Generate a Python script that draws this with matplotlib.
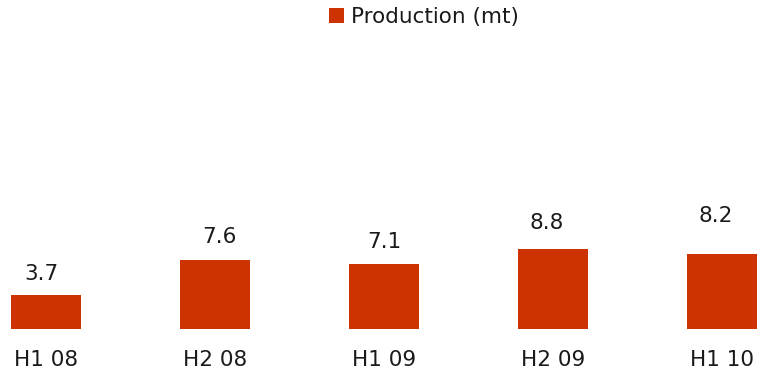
import matplotlib.pyplot as plt

# half-year production figures
periods = ["H1 08", "H2 08", "H1 09", "H2 09", "H1 10"]
production = [3.7, 7.6, 7.1, 8.8, 8.2]

bar_color = "#cc3300"
text_color = "#1a1a1a"

# offsets (pixels) of each value label from the bar's top centre
label_dx = [-5, 4, 0, -6, -6]
label_dy = [21, 23, 22, 26, 38]

W, H, DPI = 757, 371, 100
fig = plt.figure(figsize=(W / DPI, H / DPI), dpi=DPI)

base_px = 328.7          # baseline from top of image
ax = fig.add_axes([0, 1 - base_px / H, 1, base_px / H])

x = list(range(len(periods)))
bars = ax.bar(x, production, width=0.41, color=bar_color, label="Production (mt)")

ax.set_xlim(-0.272, 4.207)
ax.set_ylim(0, base_px / 9.1)

for xi, v, dx, dy in zip(x, production, label_dx, label_dy):
    ax.annotate(f"{v:.1f}", xy=(xi, v), xytext=(dx * 72 / DPI, dy * 72 / DPI),
                textcoords="offset points", ha="center", va="center",
                fontsize=15.5, color=text_color)

ax.set_xticks(x)
ax.set_xticklabels(periods, fontsize=15.5, color=text_color)
ax.tick_params(axis="x", length=0, pad=15)
ax.set_yticks([])
for s in ax.spines.values():
    s.set_visible(False)

fig.legend(handles=[bars], labels=["Production (mt)"], loc="center left",
           bbox_to_anchor=(329 / W, 1 - 17 / H), frameon=False,
           fontsize=15.5, handlelength=0.7, handleheight=0.7,
           handletextpad=0.3, borderpad=0, borderaxespad=0,
           labelcolor=text_color)

fig.savefig("out.png", dpi=DPI)
